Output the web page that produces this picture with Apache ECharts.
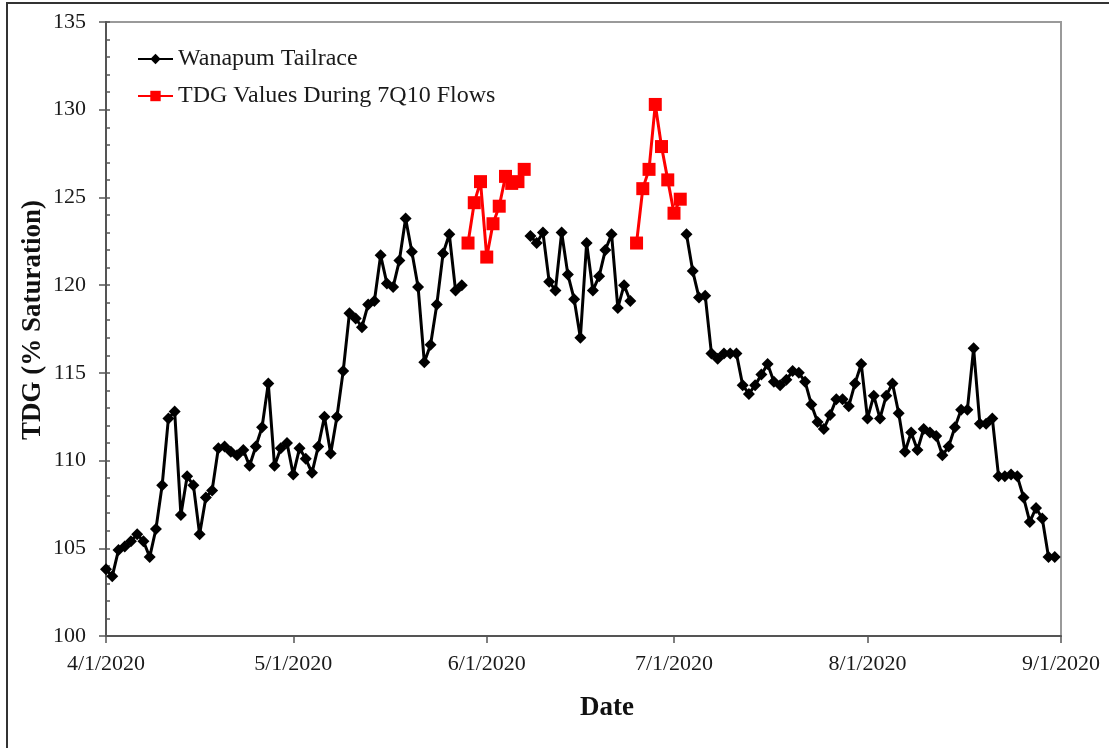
<!DOCTYPE html>
<html>
<head>
<meta charset="utf-8">
<script src="https://cdn.jsdelivr.net/npm/echarts@6/dist/echarts.min.js"></script>
<style>
html,body{margin:0;padding:0;background:#fff;}
#chart{width:1109px;height:748px;}
</style>
</head>
<body>
<div id="chart"></div>
<script>
// Daily observations starting 4/1/2020 (index 0) through 8/31/2020 (index 152)
const START_DATE = [2020, 3, 1];
const tailrace = [
  103.8,103.4,104.9,105.1,105.4,105.8,105.4,104.5,106.1,108.6,
  112.4,112.8,106.9,109.1,108.6,105.8,107.9,108.3,110.7,110.8,
  110.5,110.3,110.6,109.7,110.8,111.9,114.4,109.7,110.7,111.0,
  109.2,110.7,110.1,109.3,110.8,112.5,110.4,112.5,115.1,118.4,
  118.1,117.6,118.9,119.1,121.7,120.1,119.9,121.4,123.8,121.9,
  119.9,115.6,116.6,118.9,121.8,122.9,119.7,120.0,null,null,
  null,null,null,null,null,null,null,null,122.8,122.4,
  123.0,120.2,119.7,123.0,120.6,119.2,117.0,122.4,119.7,120.5,
  122.0,122.9,118.7,120.0,119.1,null,null,null,null,null,
  null,null,null,122.9,120.8,119.3,119.4,116.1,115.8,116.1,
  116.1,116.1,114.3,113.8,114.3,114.9,115.5,114.5,114.3,114.6,
  115.1,115.0,114.5,113.2,112.2,111.8,112.6,113.5,113.5,113.1,
  114.4,115.5,112.4,113.7,112.4,113.7,114.4,112.7,110.5,111.6,
  110.6,111.8,111.6,111.4,110.3,110.8,111.9,112.9,112.9,116.4,
  112.1,112.1,112.4,109.1,109.1,109.2,109.1,107.9,106.5,107.3,
  106.7,104.5,104.5
];
// TDG values during 7Q10 flows: day index and value
const flowsDays = [58,59,60,61,62,63,64,65,66,67,85,86,87,88,89,90,91,92];
const flowsValues = [122.4,124.7,125.9,121.6,123.5,124.5,126.2,125.8,125.9,126.6,
                     122.4,125.5,126.6,130.3,127.9,126.0,124.1,124.9];
const xTickDates = ['2020-04-01','2020-05-01','2020-06-01','2020-07-01','2020-08-01','2020-09-01'];
const yTicks = [100,105,110,115,120,125,130,135];
const seriesNames = ['Wanapum Tailrace', 'TDG Values During 7Q10 Flows'];
const xTitle = 'Date';
const yTitle = 'TDG (% Saturation)';

function dayTs(i){ return new Date(START_DATE[0], START_DATE[1], START_DATE[2] + i).getTime(); }
function parseD(s){ const p = s.split('-').map(Number); return new Date(p[0], p[1]-1, p[2]).getTime(); }

const tailraceData = tailrace.map((v,i) => [dayTs(i), v === null ? '-' : v]);
const flowsData = [];
for (let d = flowsDays[0]; d <= flowsDays[flowsDays.length-1]; d++) {
  const k = flowsDays.indexOf(d);
  flowsData.push([dayTs(d), k >= 0 ? flowsValues[k] : '-']);
}
const xTicks = xTickDates.map(parseD);

const FONT = 'Liberation Serif';
const chart = echarts.init(document.getElementById('chart'), null, {renderer:'canvas'});
chart.setOption({
  animation: false,
  backgroundColor: '#fff',
  graphic: [{
    type: 'rect', silent: true, z: -1,
    shape: {x: 7, y: 3, width: 1300, height: 900},
    style: {fill: 'none', stroke: '#333', lineWidth: 2}
  }, {
    type: 'text', silent: true, x: 33, y: 320, rotation: Math.PI / 2,
    style: {text: yTitle, fontFamily: FONT, fontSize: 27, fontWeight: 'bold', fill: '#111', align: 'center', verticalAlign: 'middle'}
  }, {
    type: 'text', silent: true, x: 607, y: 708,
    style: {text: xTitle, fontFamily: FONT, fontSize: 27, fontWeight: 'bold', fill: '#111', align: 'center', verticalAlign: 'middle'}
  }],
  grid: {left: 106, right: 48, top: 22, bottom: 112, show: true, borderColor: '#9a9a9a', borderWidth: 2, containLabel: false},
  legend: {
    orient: 'vertical', left: 137, top: 47, padding: 0, itemWidth: 35, itemHeight: 13, itemGap: 13,
    textStyle: {fontFamily: FONT, fontSize: 24, color: '#1a1a1a'},
    data: seriesNames
  },
  xAxis: {
    type: 'value',
    min: xTicks[0], max: xTicks[xTicks.length-1],
    axisLine: {show: true, lineStyle: {color: '#555', width: 2}},
    axisTick: {show: true, length: 7, customValues: xTicks, lineStyle: {color: '#555', width: 1.5}},
    axisLabel: {
      show: true, customValues: xTicks, margin: 17,
      fontFamily: FONT, fontSize: 22, color: '#1a1a1a',
      formatter: function(v){ const d = new Date(v); return (d.getMonth()+1) + '/' + d.getDate() + '/' + d.getFullYear(); }
    },
    splitLine: {show: false}
  },
  yAxis: [{
    type: 'value', min: yTicks[0], max: yTicks[yTicks.length-1], interval: 5,
    axisLine: {show: true, lineStyle: {color: '#555', width: 2}},
    axisTick: {show: true, length: 7, lineStyle: {color: '#555', width: 1.5}},
    axisLabel: {margin: 20, fontFamily: FONT, fontSize: 22, color: '#1a1a1a'},
    splitLine: {show: false}
  }, {
    type: 'value', min: yTicks[0], max: yTicks[yTicks.length-1], interval: 5, position: 'left',
    axisLine: {show: false},
    axisTick: {show: true, inside: true, length: 4, lineStyle: {color: '#555', width: 1.5}},
    minorTick: {show: true, splitNumber: 5, length: 4, lineStyle: {color: '#555', width: 1.5}},
    axisLabel: {show: false},
    splitLine: {show: false}
  }],
  series: [{
    name: seriesNames[0], type: 'line', yAxisIndex: 0,
    data: tailraceData, connectNulls: false,
    symbol: 'diamond', symbolSize: 12, showAllSymbol: true,
    lineStyle: {color: '#000', width: 3},
    itemStyle: {color: '#000'}
  }, {
    name: seriesNames[1], type: 'line', yAxisIndex: 0,
    data: flowsData, connectNulls: false,
    symbol: 'rect', symbolSize: 13, showAllSymbol: true,
    lineStyle: {color: '#ff0000', width: 3},
    itemStyle: {color: '#ff0000'}
  }]
});
</script>
</body>
</html>
